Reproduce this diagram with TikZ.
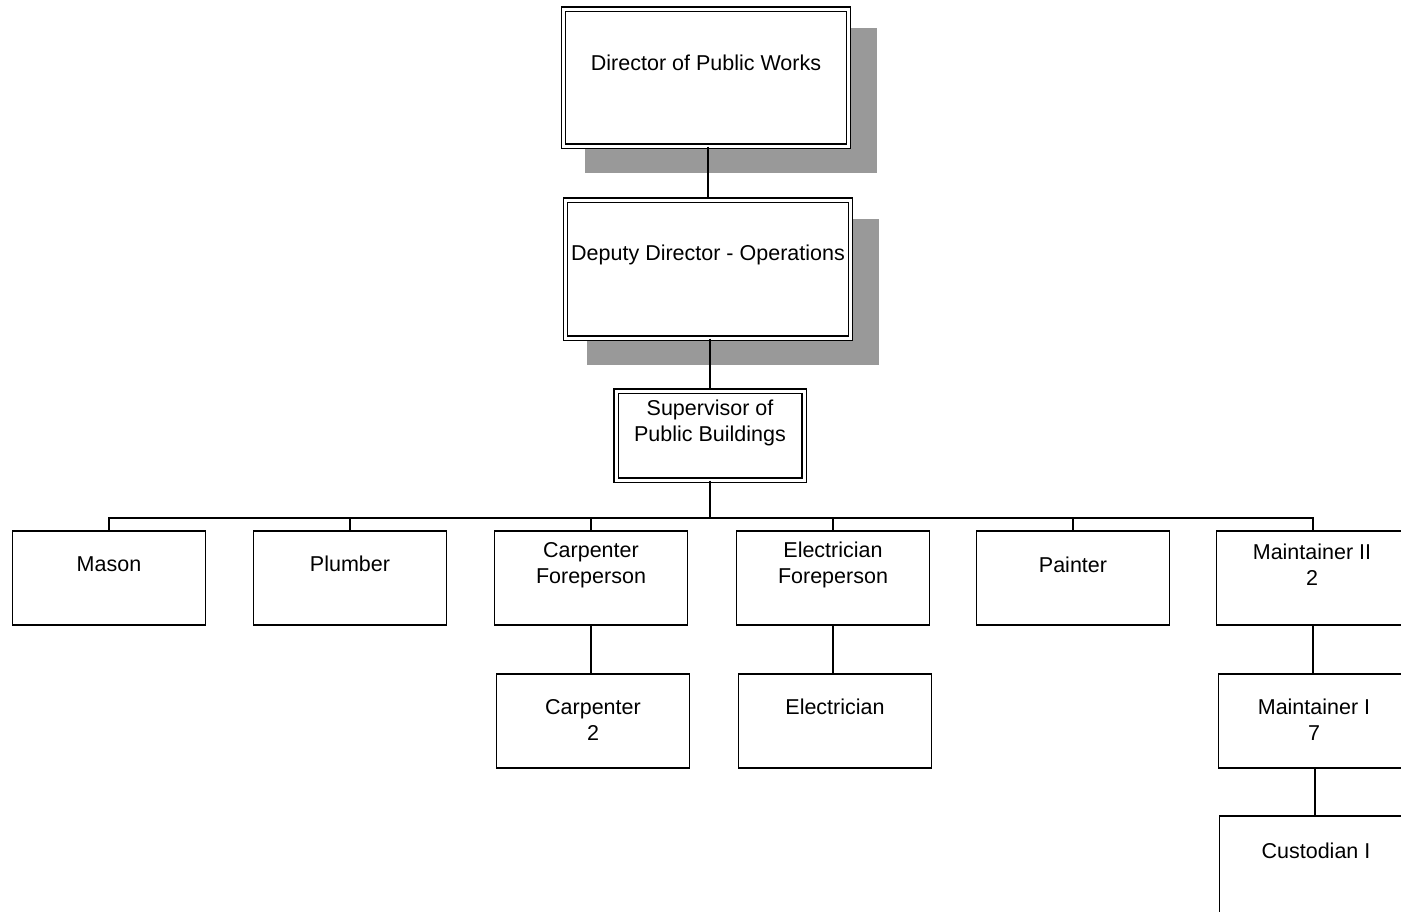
\documentclass[tikz,border=0pt]{standalone}
\usepackage{fontspec}
\setmainfont{Liberation Sans}
\begin{document}
\begin{tikzpicture}[x=1pt,y=-1pt,
  every node/.style={font=\fontsize{21.5}{26}\selectfont},
  dbox/.style={draw=black,line width=1.4pt,double=white,double distance=3pt,fill=white,rectangle,inner sep=0pt},
  sbox/.style={draw=black,line width=1.6pt,fill=white,rectangle,inner sep=0pt,minimum width=193pt,minimum height=94.5pt},
  shadowbox/.style={fill=black!40,draw=none,rectangle,inner sep=0pt},
  txt/.style={align=center,inner sep=0pt},
  conn/.style={draw=black,line width=2pt}
]
\useasboundingbox (0,0) rectangle (1401,911);
\clip (0,0) rectangle (1401,911);
% shadows
\node[shadowbox,minimum width=292pt,minimum height=145pt] (dirS) at (731,100.5) {};
\node[shadowbox,minimum width=292pt,minimum height=146pt] (depS) at (733,292) {};
% top boxes
\node[dbox,minimum width=285pt,minimum height=137pt] (dir) at (706,77.5) {};
\node[txt] (dirT) at (706,63) {Director of Public Works};
\node[dbox,minimum width=285pt,minimum height=138pt] (dep) at (708,269) {};
\node[txt] (depT) at (708,255) {Deputy Director - Operations};
\node[dbox,minimum width=188pt,minimum height=89pt] (sup) at (710,435.5) {};
\node[txt] (supT) at (710,423) {Supervisor of\\Public Buildings};
% row 1
\node[sbox] (mason) at (109,578) {};
\node[txt] (masonT) at (109,564) {Mason};
\node[sbox] (plumb) at (350,578) {};
\node[txt] (plumbT) at (350,564) {Plumber};
\node[sbox] (cfore) at (591,578) {};
\node[txt] (cforeT) at (591,565) {Carpenter\\Foreperson};
\node[sbox] (efore) at (833,578) {};
\node[txt] (eforeT) at (833,565) {Electrician\\Foreperson};
\node[sbox] (paint) at (1073,578) {};
\node[txt] (paintT) at (1073,565) {Painter};
\node[sbox] (mtwo) at (1313,578) {};
\node[txt] (mtwoT) at (1312,565) {Maintainer II\\2};
% row 2
\node[sbox] (carp) at (593,721) {};
\node[txt] (carpT) at (593,720) {Carpenter\\2};
\node[sbox] (elec) at (835,721) {};
\node[txt] (elecT) at (835,707) {Electrician};
\node[sbox] (mone) at (1315,721) {};
\node[txt] (moneT) at (1314,720) {Maintainer I\\7};
% row 3
\node[sbox,minimum height=100pt] (cust) at (1316,866) {};
\node[txt] (custT) at (1316,851) {Custodian I};
% connectors
\coordinate (bus) at (711,518);
\draw[conn] (dep.north |- dir.south) -- (dep.north);
\draw[conn] (sup.north |- dep.south) -- (sup.north);
\draw[conn] (sup.south) -- (sup.south |- bus);
\draw[conn] (mason.north) |- (bus) -| (mtwo.north);
\draw[conn] (plumb.north) -- (plumb.north |- bus);
\draw[conn] (cfore.north) -- (cfore.north |- bus);
\draw[conn] (efore.north) -- (efore.north |- bus);
\draw[conn] (paint.north) -- (paint.north |- bus);
\draw[conn] (cfore.south) -- (cfore.south |- carp.north);
\draw[conn] (efore.south) -- (efore.south |- elec.north);
\draw[conn] (mtwo.south) -- (mtwo.south |- mone.north);
\draw[conn] (mone.south) -- (mone.south |- cust.north);
\end{tikzpicture}
\end{document}
